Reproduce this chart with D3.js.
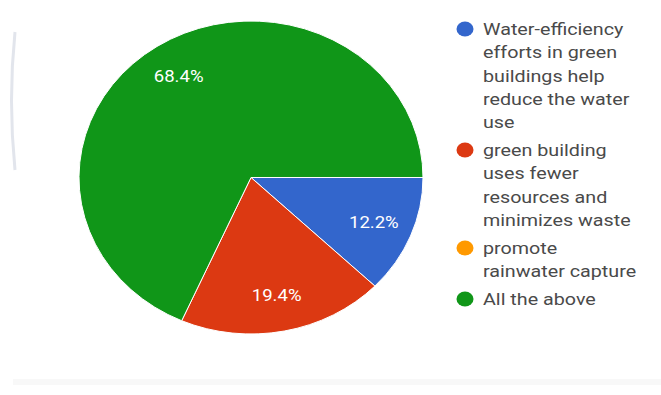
<!DOCTYPE html>
<html>
<head>
<meta charset="utf-8">
<script src="https://cdn.jsdelivr.net/npm/d3@7"></script>
<style>
  body { margin: 0; background: #fff; }
  svg { display: block; font-family: Roboto, Arial, sans-serif; }
</style>
</head>
<body>
<script>
var categories = [
  "Water-efficiency efforts in green buildings help reduce the water use",
  "green building uses fewer resources and minimizes waste",
  "promote rainwater capture",
  "All the above"
];
var legendLines = [
  ["Water-efficiency", "efforts in green", "buildings help", "reduce the water", "use"],
  ["green building", "uses fewer", "resources and", "minimizes waste"],
  ["promote", "rainwater capture"],
  ["All the above"]
];
var values = [12.2, 19.4, 0, 68.4];
var colors = ["#3366cc", "#dc3912", "#ff9900", "#109618"];

var width = 661, height = 395;
var cx = 251, cy = 177.5, rx = 172, ry = 156.5;
var stretch = 1.16;

var svg = d3.select("body")
  .append("svg")
    .attr("width", width)
    .attr("height", height);

// faint screenshot artefacts
svg.append("path")
  .attr("d", "M15,32 Q8,100 15,170")
  .attr("fill", "none")
  .attr("stroke", "#e2e5ec")
  .attr("stroke-width", 3);
svg.append("rect")
  .attr("x", 13).attr("y", 379).attr("width", 648).attr("height", 6)
  .attr("fill", "#f8f8f8");

var pie = d3.pie()
  .sort(null)
  .startAngle(Math.PI / 2)
  .endAngle(Math.PI / 2 + 2 * Math.PI);

var arcs = pie(values);
var arc = d3.arc().innerRadius(0).outerRadius(rx);

var pieG = svg.append("g")
  .attr("transform", "translate(" + cx + "," + cy + ") scale(1," + (ry / rx) + ")");

pieG.selectAll("path")
    .data(arcs.filter(function(d) { return d.value > 0; }))
    .enter()
  .append("path")
    .attr("d", arc)
    .attr("fill", function(d) { return colors[d.index]; })
    .attr("stroke", "#fff")
    .attr("stroke-width", 1)
    .attr("vector-effect", "non-scaling-stroke");

var labelArc = d3.arc().innerRadius(rx * 0.77).outerRadius(rx * 0.77);

svg.selectAll("text.slice")
    .data(arcs.filter(function(d) { return d.value > 0; }))
    .enter()
  .append("text")
    .attr("class", "slice")
    .attr("transform", function(d) {
      var c = labelArc.centroid(d);
      return "translate(" + (cx + c[0]) + "," + (cy + c[1] * ry / rx) + ") scale(" + stretch + ",1)";
    })
    .attr("dy", "0.35em")
    .attr("text-anchor", "middle")
    .attr("fill", "#fff")
    .attr("font-size", 16)
    .text(function(d) { return d.value.toFixed(1) + "%"; });

// legend
var lineH = 23.3;
var itemTop = [29, 150, 248, 299];

var legend = svg.append("g");
var items = legend.selectAll("g.item")
    .data(categories)
    .enter()
  .append("g")
    .attr("class", "item");

items.append("ellipse")
  .attr("cx", 465)
  .attr("cy", function(d, i) { return itemTop[i]; })
  .attr("rx", 8.5)
  .attr("ry", 7.5)
  .attr("fill", function(d, i) { return colors[i]; });

items.each(function(d, i) {
  var t = d3.select(this).append("text")
    .attr("transform", "translate(483," + itemTop[i] + ") scale(" + stretch + ",1)")
    .attr("fill", "#4a4a4a")
    .attr("font-size", 17);
  t.selectAll("tspan")
      .data(legendLines[i])
      .enter()
    .append("tspan")
      .attr("x", 0)
      .attr("y", function(s, j) { return j * lineH; })
      .attr("dy", "0.35em")
      .text(function(s) { return s; });
});
</script>
</body>
</html>
